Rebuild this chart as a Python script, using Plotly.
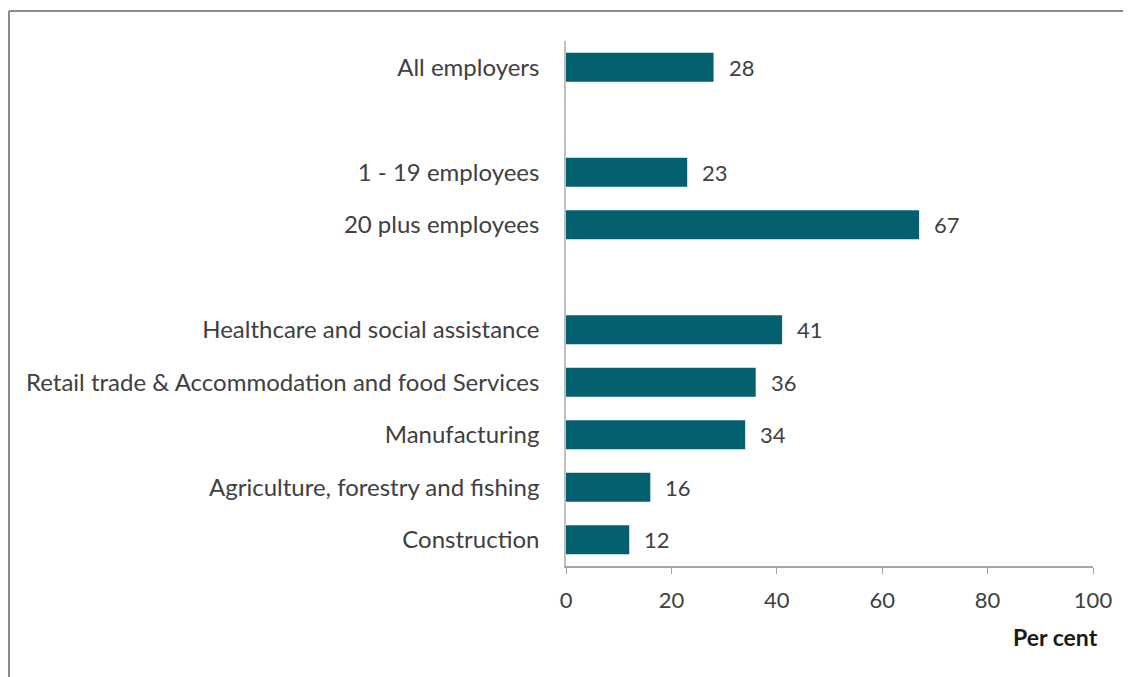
import plotly.graph_objects as go

categories = ["All employers", " ", "1 - 19 employees", "20 plus employees", "  ",
              "Healthcare and social assistance",
              "Retail trade & Accommodation and food Services",
              "Manufacturing", "Agriculture, forestry and fishing", "Construction"]
values = [28, None, 23, 67, None, 41, 36, 34, 16, 12]
x_ticks = [0, 20, 40, 60, 80, 100]

BAR = "#04606F"
FONT = "Lato"
TXT = "#404040"

fig = go.Figure()
fig.add_trace(go.Bar(
    x=values, y=categories, orientation="h",
    marker=dict(color=BAR, line=dict(width=0)),
    width=0.55, showlegend=False, hoverinfo="skip",
))

for c, v in zip(categories, values):
    if v is not None:
        fig.add_annotation(x=v, y=c, text=str(v), showarrow=False,
                           xanchor="left", xshift=13,
                           font=dict(family=FONT, size=22, color=TXT))

fig.add_annotation(xref="paper", yref="paper", x=1.013, y=-0.135,
                   text="<b>Per cent</b>", showarrow=False, xanchor="right",
                   yanchor="middle", font=dict(family=FONT, size=23, color="#1a1a1a"))

# outer frame (left and top edges visible; the rest falls outside the picture)
fig.add_shape(type="line", xref="paper", yref="paper",
              x0=-1.057, x1=-1.057, y0=-0.35, y1=1.057,
              line=dict(color="#8a8a8a", width=2), layer="below")
fig.add_shape(type="line", xref="paper", yref="paper",
              x0=-1.057, x1=1.25, y0=1.057, y1=1.057,
              line=dict(color="#8a8a8a", width=2), layer="below")

fig.update_layout(
    width=1123, height=669,
    margin=dict(l=558, r=38, t=33, b=111),
    paper_bgcolor="white", plot_bgcolor="white",
    font=dict(family=FONT, size=22, color=TXT),
    xaxis=dict(range=[0, 100], tickvals=x_ticks, ticks="outside", ticklen=6,
               tickcolor="#a6a6a6", showline=True, linecolor="#a6a6a6", linewidth=1.5,
               showgrid=False, zeroline=False, ticklabelstandoff=8,
               tickfont=dict(family=FONT, size=22, color=TXT)),
    yaxis=dict(categoryorder="array", categoryarray=categories, autorange="reversed",
               showline=True, linecolor="#bfbfbf", linewidth=1.5, showgrid=False,
               ticks="", ticklabelstandoff=20,
               tickfont=dict(family=FONT, size=24, color=TXT)),
)

fig.write_html("out.html")
